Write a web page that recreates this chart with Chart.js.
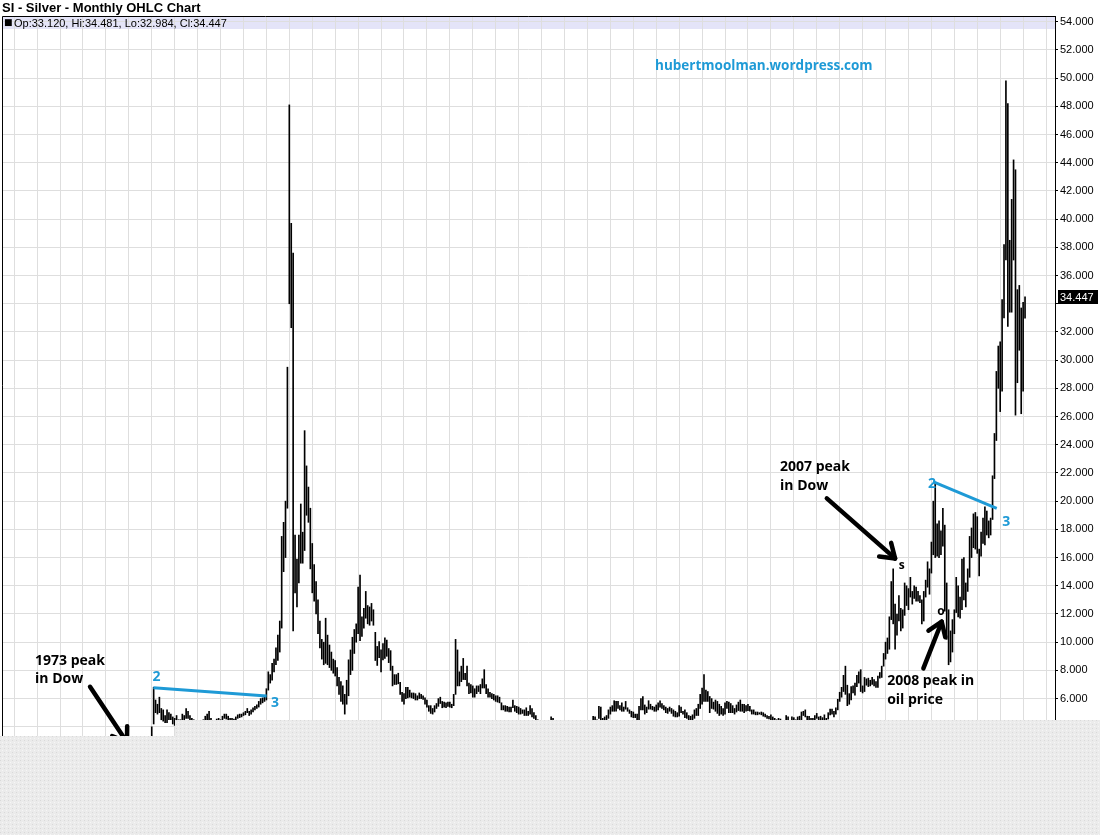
<!DOCTYPE html>
<html>
<head>
<meta charset="utf-8">
<title>SI - Silver - Monthly OHLC Chart</title>
<script src="https://cdn.jsdelivr.net/npm/chart.js@4.4.1/dist/chart.umd.min.js"></script>
<style>
  html, body { margin: 0; padding: 0; background: #fff; }
  #wrap { width: 1100px; height: 835px; }
</style>
</head>
<body>
<div id="wrap"><canvas id="chart" width="1100" height="835"></canvas></div>
<script>
// Silver, monthly bars Jan 1974 .. Feb 2012
var startYear = 1974;

var highs = [
  4.0, 6.8, 5.9, 5.6, 6.1, 5.3, 5.2, 4.8, 5.2, 5.0, 4.9, 4.7,          // 1974
  4.6, 4.8, 4.5, 4.5, 4.9, 4.8, 5.3, 5.1, 4.8, 4.6, 4.5, 4.4,          // 1975
  4.2, 4.2, 4.4, 4.5, 4.75, 4.9, 5.1, 4.6, 4.4, 4.45, 4.55, 4.6,       // 1976
  4.5, 4.75, 4.9, 4.9, 4.75, 4.6, 4.6, 4.55, 4.7, 4.85, 4.9, 4.9,      // 1977
  5.0, 5.1, 5.3, 5.1, 5.2, 5.35, 5.45, 5.55, 5.8, 6.0, 6.05, 6.2,      // 1978
  6.7, 7.9, 7.7, 8.5, 8.8, 9.6, 10.5, 11.5, 17.5, 18.5, 20.0, 29.5,    // 1979
  48.1, 39.7, 37.6, 17.6, 15.9, 17.6, 19.8, 17.8, 25.0, 22.5, 21.0, 19.5, // 1980
  17.0, 15.5, 14.3, 13.0, 11.5, 10.2, 10.0, 11.7, 10.5, 9.8, 9.3, 8.8, // 1981
  8.7, 8.2, 7.5, 7.2, 6.9, 6.3, 7.3, 8.75, 9.45, 10.35, 10.9, 11.3,    // 1982
  13.9, 14.75, 11.8, 12.4, 13.6, 12.6, 12.5, 12.75, 12.3, 10.7, 9.7, 10.05, // 1983
  9.45, 9.9, 10.3, 10.15, 9.55, 9.4, 8.3, 7.7, 7.7, 7.8, 7.15, 6.45,   // 1984
  6.35, 6.8, 6.8, 6.6, 6.4, 6.4, 6.35, 6.2, 6.4, 6.3, 6.2, 6.05,       // 1985
  5.9, 5.5, 5.5, 5.3, 5.5, 5.65, 6.0, 6.1, 5.8, 5.75, 5.7, 5.75,       // 1986
  5.75, 5.6, 6.3, 10.2, 9.45, 7.9, 8.3, 8.85, 7.8, 8.3, 7.1, 7.0,      // 1987
  6.9, 6.7, 6.9, 6.9, 7.0, 7.4, 8.05, 7.0, 6.7, 6.45, 6.35, 6.3,       // 1988
  6.2, 6.2, 6.1, 5.7, 5.5, 5.5, 5.45, 5.4, 5.4, 5.9, 5.5, 5.45,        // 1989
  5.4, 5.3, 5.2, 5.2, 5.35, 5.1, 5.5, 5.3, 5.0, 4.8, 4.5, 4.4,         // 1990
  4.3, 3.95, 4.05, 4.1, 4.4, 4.7, 4.6, 4.0, 4.2, 4.2, 4.15, 4.0,       // 1991
  4.2, 4.2, 4.1, 4.05, 4.1, 4.1, 4.05, 3.9, 3.9, 3.8, 3.8, 3.85,       // 1992
  3.75, 3.7, 4.1, 4.75, 4.7, 4.5, 5.45, 5.4, 4.6, 4.7, 4.8, 5.2,       // 1993
  5.4, 5.5, 5.85, 5.8, 5.8, 5.5, 5.7, 5.4, 5.8, 5.35, 5.2, 5.1,        // 1994
  5.05, 4.9, 4.9, 5.45, 6.0, 6.15, 5.55, 5.4, 5.85, 5.6, 5.45, 5.4,    // 1995
  5.55, 5.7, 5.85, 5.65, 5.5, 5.4, 5.3, 5.4, 5.3, 5.2, 5.1, 5.0,       // 1996
  5.5, 5.4, 5.1, 5.2, 5.0, 4.8, 4.75, 4.85, 5.2, 5.3, 5.6, 6.3,        // 1997
  6.75, 7.7, 6.6, 6.5, 6.15, 6.0, 5.75, 5.9, 5.8, 5.6, 5.45, 5.3,      // 1998
  5.7, 5.8, 5.75, 5.65, 5.5, 5.3, 5.55, 5.75, 5.9, 5.6, 5.6, 5.5,      // 1999
  5.6, 5.45, 5.2, 5.2, 5.05, 5.05, 5.0, 5.05, 5.0, 4.9, 4.8, 4.75,     // 2000
  4.85, 4.7, 4.6, 4.5, 4.6, 4.55, 4.4, 4.45, 4.8, 4.7, 4.25, 4.7,      // 2001
  4.65, 4.5, 4.7, 4.75, 5.05, 5.1, 5.2, 4.75, 4.75, 4.6, 4.6, 4.8,     // 2002
  4.95, 4.7, 4.75, 4.65, 4.85, 4.6, 5.0, 5.25, 5.25, 5.1, 5.35, 5.95,  // 2003
  6.45, 6.8, 7.65, 8.3, 6.95, 6.35, 6.85, 6.9, 7.1, 7.65, 7.9, 8.05,   // 2004
  6.9, 7.5, 7.4, 7.45, 7.3, 7.5, 7.35, 7.2, 7.6, 7.85, 8.3, 9.2,       // 2005
  10.0, 10.3, 11.8, 14.3, 15.2, 12.7, 12.0, 13.3, 12.4, 12.3, 14.2, 14.0, // 2006
  13.8, 14.6, 13.6, 14.0, 13.9, 13.6, 13.3, 13.0, 13.6, 14.4, 15.7, 15.2, // 2007
  17.1, 20.0, 21.3, 18.4, 18.6, 17.9, 19.5, 18.3, 14.2, 12.3, 10.8, 11.6, // 2008
  12.3, 14.6, 14.0, 13.2, 15.9, 16.0, 14.2, 15.2, 17.5, 18.1, 19.1, 19.2, // 2009
  18.9, 16.6, 17.8, 18.8, 19.6, 19.3, 18.6, 18.8, 21.8, 24.8, 29.2, 31.0, // 2010
  31.3, 34.3, 38.2, 49.8, 48.2, 38.5, 41.4, 44.2, 43.5, 35.0, 35.3, 33.7, // 2011
  34.1, 34.481                                                          // 2012
];

var lows = [
  3.3, 4.2, 5.0, 4.9, 5.0, 4.5, 4.4, 4.3, 4.3, 4.5, 4.5, 4.2,          // 1974
  4.1, 4.2, 4.1, 4.1, 4.3, 4.4, 4.6, 4.6, 4.4, 4.2, 4.1, 4.1,          // 1975
  3.9, 3.9, 3.95, 4.0, 4.3, 4.4, 4.5, 4.2, 4.1, 4.15, 4.2, 4.3,        // 1976
  4.3, 4.4, 4.6, 4.55, 4.5, 4.4, 4.4, 4.35, 4.5, 4.6, 4.65, 4.7,       // 1977
  4.8, 4.85, 5.0, 4.8, 4.9, 5.05, 5.2, 5.3, 5.4, 5.6, 5.7, 5.8,        // 1978
  5.9, 6.6, 7.1, 7.3, 7.9, 8.4, 8.7, 9.3, 11.0, 15.0, 16.0, 19.5,      // 1979
  34.0, 32.3, 10.8, 13.5, 12.5, 14.2, 15.6, 15.6, 16.5, 19.0, 18.5, 15.2, // 1980
  13.5, 12.9, 12.0, 10.6, 9.6, 8.8, 8.4, 8.5, 8.4, 8.2, 8.0, 7.8,      // 1981
  7.6, 6.9, 6.3, 5.8, 5.6, 4.9, 5.6, 6.2, 7.7, 8.0, 9.2, 10.0,         // 1982
  10.6, 10.1, 10.4, 11.0, 11.7, 11.3, 11.2, 11.5, 11.2, 8.7, 8.35, 8.9, // 1983
  7.9, 8.75, 8.85, 9.0, 8.55, 8.0, 6.9, 7.0, 7.0, 7.05, 6.3, 5.8,      // 1984
  5.6, 6.0, 6.05, 6.1, 6.05, 6.0, 5.9, 5.9, 6.0, 6.0, 5.95, 5.6,       // 1985
  5.4, 5.1, 4.95, 4.9, 5.05, 5.3, 5.45, 5.65, 5.35, 5.4, 5.35, 5.45,   // 1986
  5.4, 5.35, 5.5, 6.3, 6.9, 6.9, 7.2, 7.35, 7.35, 6.9, 6.35, 6.4,      // 1987
  6.1, 6.1, 6.35, 6.5, 6.35, 6.75, 6.75, 6.35, 6.1, 6.1, 6.0, 5.9,     // 1988
  5.8, 5.75, 5.7, 5.2, 5.2, 5.1, 5.1, 5.05, 5.05, 5.35, 5.1, 5.0,      // 1989
  4.9, 4.9, 4.95, 4.8, 4.8, 4.8, 4.9, 4.7, 4.6, 4.3, 4.1, 4.0,         // 1990
  3.9, 3.6, 3.85, 3.9, 3.95, 4.3, 4.2, 3.8, 3.9, 4.0, 3.95, 3.75,      // 1991
  3.85, 4.05, 3.95, 3.9, 3.95, 3.95, 3.85, 3.75, 3.7, 3.65, 3.7, 3.65, // 1992
  3.6, 3.55, 3.55, 3.85, 4.2, 4.3, 4.6, 4.5, 4.1, 4.2, 4.2, 4.6,       // 1993
  4.9, 5.1, 5.1, 5.1, 5.3, 5.2, 5.1, 5.1, 5.25, 5.1, 4.95, 4.7,        // 1994
  4.65, 4.65, 4.45, 4.5, 5.2, 5.2, 4.9, 5.0, 5.25, 5.25, 5.2, 5.1,     // 1995
  5.1, 5.2, 5.4, 5.3, 5.2, 5.0, 4.95, 5.1, 4.95, 4.75, 4.7, 4.7,       // 1996
  4.75, 5.0, 4.9, 4.65, 4.6, 4.5, 4.3, 4.35, 4.6, 4.8, 4.8, 5.3,       // 1997
  5.6, 5.8, 5.8, 5.8, 5.0, 5.3, 5.25, 5.1, 4.95, 4.8, 4.9, 4.8,        // 1998
  4.9, 5.3, 5.0, 5.0, 5.0, 4.9, 5.05, 5.15, 5.1, 5.1, 5.0, 5.1,        // 1999
  5.15, 5.1, 4.9, 4.9, 4.85, 4.85, 4.9, 4.85, 4.75, 4.7, 4.6, 4.55,    // 2000
  4.5, 4.4, 4.3, 4.3, 4.3, 4.2, 4.15, 4.15, 4.2, 4.1, 4.0, 4.1,        // 2001
  4.2, 4.2, 4.45, 4.5, 4.5, 4.8, 4.7, 4.5, 4.5, 4.4, 4.4, 4.5,         // 2002
  4.6, 4.5, 4.35, 4.45, 4.5, 4.45, 4.55, 4.85, 4.9, 4.7, 4.9, 5.2,     // 2003
  5.8, 6.1, 6.5, 6.3, 5.5, 5.6, 5.9, 6.4, 6.25, 6.85, 7.1, 6.5,        // 2004
  6.4, 6.5, 6.95, 6.85, 6.9, 7.0, 6.9, 6.8, 6.8, 7.45, 7.5, 8.3,       // 2005
  8.8, 9.2, 9.5, 11.6, 11.3, 9.5, 10.5, 11.5, 10.8, 11.0, 11.9, 12.6,  // 2006
  12.3, 13.2, 12.7, 13.1, 12.9, 12.9, 12.8, 11.3, 11.5, 13.2, 13.9, 13.4, // 2007
  14.9, 16.2, 16.0, 16.1, 16.0, 16.2, 16.8, 12.2, 10.2, 8.4, 8.6, 9.3, // 2008
  10.6, 12.1, 11.8, 11.7, 12.3, 13.0, 12.5, 13.6, 14.6, 16.0, 16.7, 16.6, // 2009
  16.3, 14.7, 16.1, 17.0, 16.9, 17.6, 17.4, 17.6, 18.7, 21.6, 24.3, 28.0, // 2010
  26.35, 27.8, 33.0, 37.1, 32.4, 33.4, 33.4, 37.1, 26.1, 28.4, 30.7, 26.2, // 2011
  27.8, 32.984                                                          // 2012
];

// last (partial) bar: open, high, low, close
var lastBar = [33.120, 34.481, 32.984, 34.447];

var xRange = [1967.47, 2013.39];   // years shown
var yRange = [2, 54.404];          // price shown
var yearTicks = [];
for (var yr = 1968; yr <= 2013; yr++) yearTicks.push(yr);
var priceTicks = [];
for (var p = 2; p <= 54; p += 2) priceTicks.push(p);

// hand drawn notes, placed in (year, price) units
var blackNotes = [
  ['1973 peak', 1968.91, 8.66], ['in Dow', 1968.91, 7.38],
  ['2007 peak', 2001.40, 22.42], ['in Dow', 2001.40, 21.07],
  ['2008 peak in', 2006.07, 7.24], ['oil price', 2006.07, 5.89]
];
var smallMarks = [['o', 1974.58, 3.05], ['s', 2006.71, 15.45], ['o', 2008.42, 12.17]];
var blueNotes = [['2', 1974.21, 7.52], ['3', 1979.38, 5.68], ['2', 2008.03, 21.25], ['3', 2011.26, 18.55]];
var siteNote = ['hubertmoolman.wordpress.com', 1995.95, 50.86];
var trendLines = [
  [[1974.07, 6.77], [1979.01, 6.18]],
  [[2008.09, 21.37], [2010.85, 19.49]]
];
var arrows = [
  [[1971.31, 6.84], [1972.92, 2.91]],
  [[2003.44, 20.2], [2006.415, 15.94]],
  [[2007.65, 8.14], [2008.45, 11.45]]
];

var BLUE = '#1e9ad6';
var bars = highs.map(function(h, i) {
  return { x: startYear + i / 12, y: [lows[i], h] };
});

function greyPattern(ctx) {
  var c = document.createElement('canvas');
  c.width = 4; c.height = 4;
  var g = c.getContext('2d');
  g.fillStyle = '#ebebeb'; g.fillRect(0, 0, 4, 4);
  g.fillStyle = '#d9d9d9'; g.fillRect(0, 0, 1, 1);
  g.fillStyle = '#f6f6f6'; g.fillRect(2, 2, 1, 1);
  return ctx.createPattern(c, 'repeat');
}

var decorations = {
  id: 'decorations',
  beforeDraw: function(chart) {
    // lavender header band under the grid
    var a = chart.chartArea, ctx = chart.ctx;
    ctx.save();
    ctx.fillStyle = '#e4e4f8';
    ctx.fillRect(a.left, a.top, a.right - a.left, 13);
    ctx.restore();
  },
  afterDraw: function(chart) {
    var ctx = chart.ctx, a = chart.chartArea;
    var xs = chart.scales.x, ys = chart.scales.y;
    function P(pt) { return [xs.getPixelForValue(pt[0]), ys.getPixelForValue(pt[1])]; }

    ctx.save();
    // frame
    ctx.strokeStyle = '#000';
    ctx.lineWidth = 1;
    ctx.beginPath();
    ctx.moveTo(a.left + 0.5, a.bottom);
    ctx.lineTo(a.left + 0.5, a.top + 0.5);
    ctx.lineTo(a.right, a.top + 0.5);
    ctx.stroke();

    // OHLC read-out
    ctx.fillStyle = '#000';
    ctx.textBaseline = 'middle';
    ctx.textAlign = 'left';
    ctx.font = '9px "DejaVu Sans", sans-serif';
    ctx.fillText('\u25A0', a.left + 2, a.top + 7);
    ctx.font = '11px "Liberation Sans", "DejaVu Sans", sans-serif';
    ctx.fillText('Op:' + lastBar[0].toFixed(3) + ', Hi:' + lastBar[1].toFixed(3) +
      ', Lo:' + lastBar[2].toFixed(3) + ', Cl:' + lastBar[3].toFixed(3), a.left + 12, a.top + 7.5);

    // last close marker on the axis
    var cy = ys.getPixelForValue(lastBar[3]);
    ctx.fillRect(a.right + 3, Math.round(cy) - 7, 40, 14);
    ctx.fillStyle = '#fff';
    ctx.fillText(lastBar[3].toFixed(3), a.right + 5, cy + 0.5);

    // blue trend lines
    ctx.strokeStyle = BLUE;
    ctx.lineWidth = 3;
    trendLines.forEach(function(l) {
      var p0 = P(l[0]), p1 = P(l[1]);
      ctx.beginPath(); ctx.moveTo(p0[0], p0[1]); ctx.lineTo(p1[0], p1[1]); ctx.stroke();
    });

    // arrows
    ctx.strokeStyle = '#000';
    ctx.lineWidth = 4.5;
    ctx.lineCap = 'round';
    arrows.forEach(function(l) {
      var t = P(l[0]), h = P(l[1]);
      var ang = Math.atan2(h[1] - t[1], h[0] - t[0]);
      ctx.beginPath(); ctx.moveTo(t[0], t[1]); ctx.lineTo(h[0], h[1]); ctx.stroke();
      [-0.6, 0.6].forEach(function(d) {
        ctx.beginPath();
        ctx.moveTo(h[0], h[1]);
        ctx.lineTo(h[0] - 16 * Math.cos(ang + d), h[1] - 16 * Math.sin(ang + d));
        ctx.stroke();
      });
    });

    // texts
    ctx.textAlign = 'left';
    ctx.textBaseline = 'middle';
    ctx.fillStyle = '#000';
    ctx.font = 'bold 14px "Open Sans", sans-serif';
    blackNotes.forEach(function(n) { var q = P([n[1], n[2]]); ctx.fillText(n[0], q[0], q[1]); });
    ctx.textAlign = 'center';
    ctx.font = 'bold 12px "Open Sans", sans-serif';
    smallMarks.forEach(function(n) { var q = P([n[1], n[2]]); ctx.fillText(n[0], q[0], q[1]); });
    ctx.fillStyle = BLUE;
    ctx.font = 'bold 14px "Open Sans", sans-serif';
    blueNotes.forEach(function(n) { var q = P([n[1], n[2]]); ctx.fillText(n[0], q[0], q[1]); });
    ctx.textAlign = 'left';
    ctx.font = 'bold 13.5px "Open Sans", sans-serif';
    var s = P([siteNote[1], siteNote[2]]);
    ctx.fillText(siteNote[0], s[0], s[1]);

    // grey panel covering the lower part of the picture
    ctx.fillStyle = greyPattern(ctx);
    ctx.beginPath();
    ctx.moveTo(0, 736); ctx.lineTo(175, 736); ctx.lineTo(175, 720);
    ctx.lineTo(1100, 720); ctx.lineTo(1100, 835); ctx.lineTo(0, 835);
    ctx.closePath();
    ctx.fill();
    ctx.restore();
  }
};

new Chart(document.getElementById('chart'), {
  type: 'bar',
  data: {
    datasets: [{
      data: bars,
      backgroundColor: '#000',
      borderWidth: 0,
      barThickness: 1
    }]
  },
  options: {
    responsive: false,
    animation: false,
    layout: { padding: { left: 2, right: 0, top: 0, bottom: 80 } },
    plugins: {
      legend: { display: false },
      tooltip: { enabled: false },
      title: {
        display: true,
        text: 'SI - Silver - Monthly OHLC Chart',
        align: 'start',
        color: '#000',
        font: { family: '"Liberation Sans", Arial, sans-serif', size: 13, weight: 'bold', lineHeight: 1 },
        padding: { top: 2, bottom: 1 }
      }
    },
    scales: {
      x: {
        type: 'linear',
        min: xRange[0],
        max: xRange[1],
        offset: false,
        afterBuildTicks: function(scale) {
          scale.ticks = yearTicks.map(function(v) { return { value: v }; });
        },
        afterFit: function(scale) { scale.height = 0; },
        grid: { color: '#dedede', drawTicks: false, offset: false },
        border: { display: false },
        ticks: { display: false }
      },
      y: {
        position: 'right',
        min: yRange[0],
        max: yRange[1],
        afterBuildTicks: function(scale) {
          scale.ticks = priceTicks.map(function(v) { return { value: v }; });
        },
        afterFit: function(scale) { scale.width = 45; },
        grid: { color: '#dedede', tickLength: 3, tickColor: '#000' },
        border: { display: true, color: '#000', width: 1 },
        ticks: {
          color: '#000',
          padding: 2,
          font: { family: '"Liberation Sans", Arial, sans-serif', size: 11 },
          callback: function(v) {
            return Math.abs(v - lastBar[3]) < 1 ? '' : Number(v).toFixed(3);
          }
        }
      }
    }
  },
  plugins: [decorations]
});
</script>
</body>
</html>
